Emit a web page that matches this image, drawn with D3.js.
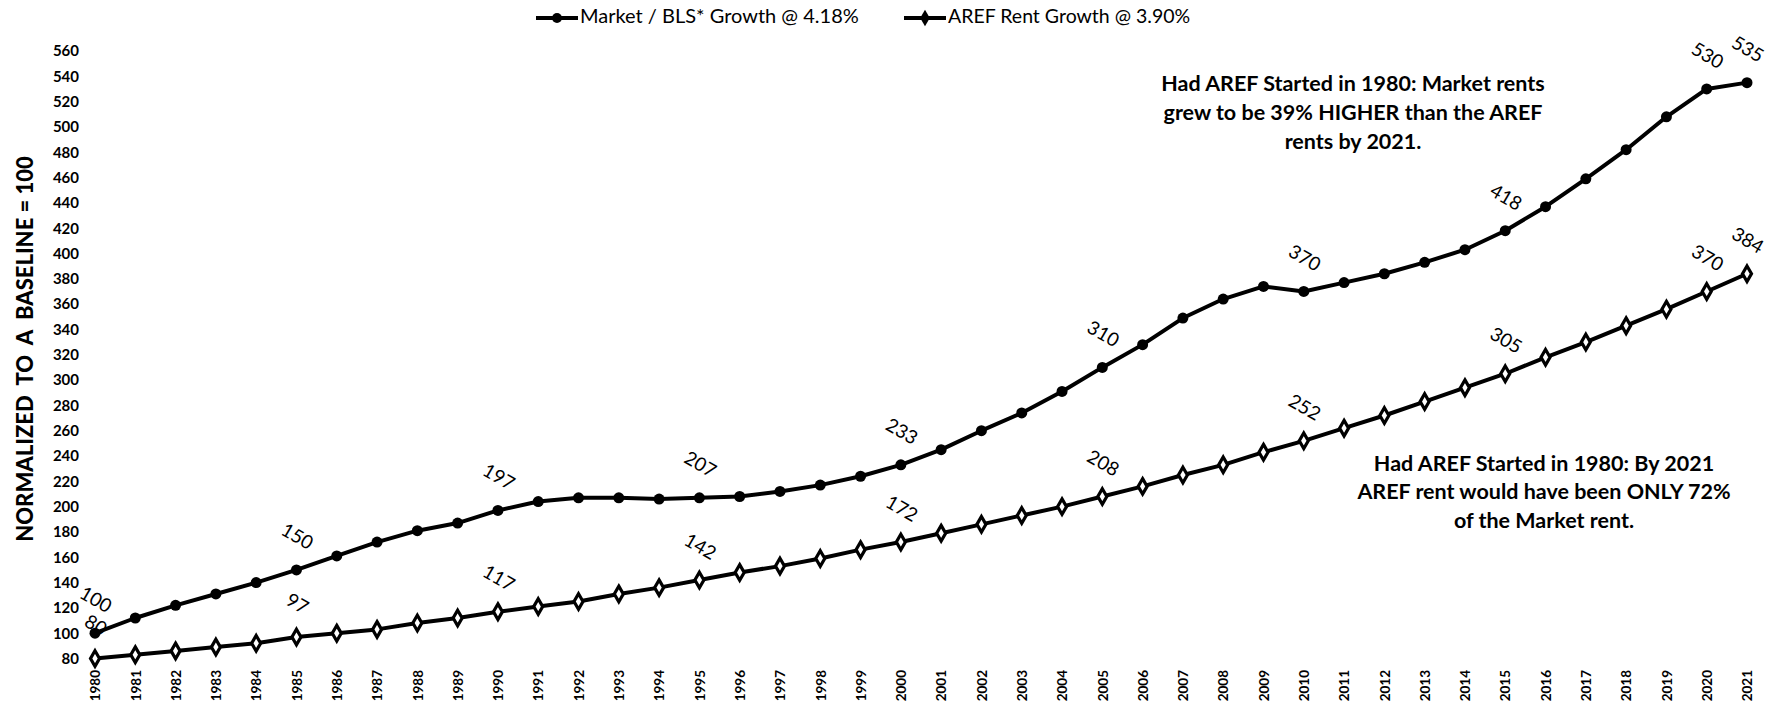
<!DOCTYPE html>
<html>
<head>
<meta charset="utf-8">
<script src="https://cdn.jsdelivr.net/npm/d3@7/dist/d3.min.js"></script>
<style>
  body { margin: 0; background: #ffffff; }
  svg { display: block; }
</style>
</head>
<body>
<svg id="chart" width="1774" height="707"></svg>
<script>
// Years on the x axis
const years = [1980, 1981, 1982, 1983, 1984, 1985, 1986, 1987, 1988, 1989,
               1990, 1991, 1992, 1993, 1994, 1995, 1996, 1997, 1998, 1999,
               2000, 2001, 2002, 2003, 2004, 2005, 2006, 2007, 2008, 2009,
               2010, 2011, 2012, 2013, 2014, 2015, 2016, 2017, 2018, 2019,
               2020, 2021];

// Market / BLS* rent index (1980 = 100)
const marketValues = [100, 112, 122, 131, 140, 150, 161, 172, 181, 187,
                      197, 204, 207, 207, 206, 207, 208, 212, 217, 224,
                      233, 245, 260, 274, 291, 310, 328, 349, 364, 374,
                      370, 377, 384, 393, 403, 418, 437, 459, 482, 508,
                      530, 535];

// AREF rent index
const arefValues = [80, 83, 86, 89, 92, 97, 100, 103, 108, 112,
                    117, 121, 125, 131, 136, 142, 148, 153, 159, 166,
                    172, 179, 186, 193, 200, 208, 216, 225, 233, 243,
                    252, 262, 272, 283, 294, 305, 318, 330, 343, 356,
                    370, 384];

// Years whose values are printed next to the markers
const labeledYears = [1980, 1985, 1990, 1995, 2000, 2005, 2010, 2015, 2020, 2021];

const yTicks = [80, 100, 120, 140, 160, 180, 200, 220, 240, 260, 280, 300, 320,
                340, 360, 380, 400, 420, 440, 460, 480, 500, 520, 540, 560];

const seriesNames = ["Market / BLS* Growth @ 4.18%", "AREF Rent Growth @ 3.90%"];
const yTitle = "NORMALIZED  TO  A  BASELINE = 100";

const noteMarket = ["Had AREF Started in 1980: Market rents",
                    "grew to be 39% HIGHER than the AREF",
                    "rents by 2021."];
const noteAref = ["Had AREF Started in 1980: By 2021",
                  "AREF rent would have been ONLY 72%",
                  "of the Market rent."];

const svg = d3.select("#chart");
const FONT = "Lato, 'Open Sans', sans-serif";

const x = d3.scalePoint().domain(years).range([95, 1747]);
const y = d3.scaleLinear().domain([80, 560]).range([658.5, 51]);

// Y axis: labels only, no domain line or ticks
const yAxis = svg.append("g")
  .attr("transform", "translate(79,0)")
  .call(d3.axisLeft(y).tickValues(yTicks).tickSize(0).tickPadding(0));
yAxis.select(".domain").remove();
yAxis.selectAll("text")
  .attr("font-family", FONT)
  .attr("font-weight", 700)
  .attr("font-size", 15)
  .attr("fill", "#000");

// X axis: rotated year labels
const xAxis = svg.append("g")
  .attr("transform", "translate(0,670)")
  .call(d3.axisBottom(x).tickSize(0).tickPadding(0));
xAxis.select(".domain").remove();
xAxis.selectAll("text")
  .attr("font-family", FONT)
  .attr("font-weight", 700)
  .attr("font-size", 13.5)
  .attr("fill", "#000")
  .attr("transform", "rotate(-90)")
  .attr("text-anchor", "end")
  .attr("x", 0)
  .attr("y", 0)
  .attr("dy", "0.35em");

// Y axis title
svg.append("text")
  .attr("transform", "translate(27,349) rotate(-90)")
  .attr("text-anchor", "middle")
  .attr("dominant-baseline", "middle")
  .attr("font-family", FONT)
  .attr("font-weight", 900)
  .attr("font-size", 22)
  .attr("fill", "#000")
  .style("white-space", "pre")
  .text(yTitle);

const marketData = years.map((yr, i) => ({ year: yr, value: marketValues[i] }));
const arefData = years.map((yr, i) => ({ year: yr, value: arefValues[i] }));

const line = d3.line().x(d => x(d.year)).y(d => y(d.value));
const diamond = d3.symbol().type(d3.symbolDiamond).size(70);

function valueLabels(data) {
  svg.append("g").selectAll("text")
    .data(data.filter(d => labeledYears.includes(d.year)))
    .join("text")
    .attr("transform", d => `translate(${x(d.year)},${y(d.value) - 32}) rotate(30)`)
    .attr("text-anchor", "middle")
    .attr("dominant-baseline", "middle")
    .attr("font-family", FONT)
    .attr("font-size", 19)
    .attr("fill", "#000")
    .text(d => d.value);
}

// AREF series: line with diamond markers
svg.append("path")
  .datum(arefData)
  .attr("fill", "none")
  .attr("stroke", "#000")
  .attr("stroke-width", 4)
  .attr("stroke-linejoin", "round")
  .attr("d", line);
svg.append("g").selectAll("path")
  .data(arefData)
  .join("path")
  .attr("transform", d => `translate(${x(d.year)},${y(d.value)})`)
  .attr("d", diamond)
  .attr("fill", "#fff")
  .attr("stroke", "#000")
  .attr("stroke-width", 3.2);
valueLabels(arefData);

// Market series: line with circle markers
svg.append("path")
  .datum(marketData)
  .attr("fill", "none")
  .attr("stroke", "#000")
  .attr("stroke-width", 4)
  .attr("stroke-linejoin", "round")
  .attr("d", line);
svg.append("g").selectAll("circle")
  .data(marketData)
  .join("circle")
  .attr("cx", d => x(d.year))
  .attr("cy", d => y(d.value))
  .attr("r", 5.5)
  .attr("fill", "#000");
valueLabels(marketData);

// Legend
const legendX = [536, 904];
const legendFontSize = [20, 19.5];
seriesNames.forEach((name, i) => {
  const g = svg.append("g").attr("transform", `translate(${legendX[i]},18)`);
  g.append("line").attr("x1", 0).attr("x2", 42).attr("y1", 0).attr("y2", 0)
    .attr("stroke", "#000").attr("stroke-width", 4);
  if (i === 0) {
    g.append("circle").attr("cx", 21).attr("cy", 0).attr("r", 5).attr("fill", "#000");
  } else {
    g.append("path").attr("transform", "translate(21,0)")
      .attr("d", d3.symbol().type(d3.symbolDiamond).size(80)).attr("fill", "#000");
  }
  g.append("text")
    .attr("x", 44).attr("y", 0)
    .attr("dominant-baseline", "middle")
    .attr("font-family", FONT)
    .attr("font-size", legendFontSize[i])
    .attr("fill", "#000")
    .text(name);
});

// Annotation blocks
function note(lines, cx, cy0, step) {
  svg.append("g").selectAll("text")
    .data(lines)
    .join("text")
    .attr("x", cx)
    .attr("y", (d, i) => cy0 + i * step)
    .attr("text-anchor", "middle")
    .attr("dominant-baseline", "middle")
    .attr("font-family", FONT)
    .attr("font-weight", 700)
    .attr("font-size", 21.5)
    .attr("fill", "#000")
    .text(d => d);
}
note(noteMarket, 1353, 85, 29);
note(noteAref, 1544, 465, 28.5);
</script>
</body>
</html>
